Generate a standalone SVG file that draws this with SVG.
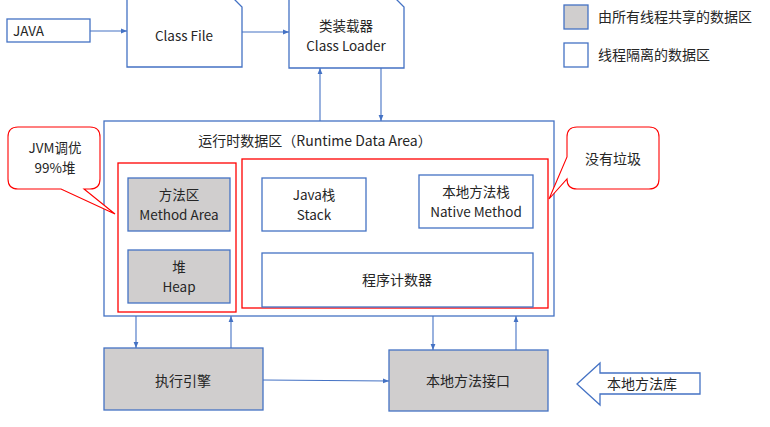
<svg xmlns="http://www.w3.org/2000/svg" width="770" height="427" viewBox="0 0 770 427">
<defs>
<style>
.b{fill:#fff;stroke:#4472C4;stroke-width:1.3}
.g{fill:#D0CECE;stroke:#4472C4;stroke-width:1.3}
.r{fill:none;stroke:#FF0000;stroke-width:1.3}
.c{fill:#fff;stroke:#FF0000;stroke-width:1.1}
.l{fill:none;stroke:#4472C4;stroke-width:1.1}
text{font-family:"Noto Sans CJK SC","Liberation Sans",sans-serif;font-size:13.5px;fill:#262626}
.m{text-anchor:middle}
.z{font-size:14px}
</style>
<marker id="a" viewBox="0 0 10 10" refX="10" refY="5" markerWidth="6" markerHeight="6" orient="auto" markerUnits="userSpaceOnUse">
<path d="M0,1 L10,5 L0,9 Z" fill="#4472C4"/>
</marker>
</defs>
<rect width="770" height="427" fill="#fff"/>

<g id="legend">
<rect x="564" y="5" width="24" height="24" class="g"/>
<text x="598" y="22" class="z">由所有线程共享的数据区</text>
<rect x="564" y="43" width="24" height="24" class="b"/>
<text x="598" y="60" class="z">线程隔离的数据区</text>
</g>

<g id="java">
<rect x="7" y="19" width="83" height="23" class="b"/>
<text x="13" y="36">JAVA</text>
</g>

<g id="classfile">
<path d="M127,-12 H223 L242,7 V67 H127 Z" class="b"/>
<text x="184" y="41" class="m">Class File</text>
</g>

<g id="classloader">
<path d="M289,-12 H385 L404,7 V68 H289 Z" class="b"/>
<text x="346" y="31" class="m">类装载器</text>
<text x="346" y="50.5" class="m">Class Loader</text>
</g>

<g id="runtime">
<rect x="104" y="121" width="450" height="195" class="b"/>
<text x="315" y="146" class="m z">运行时数据区（Runtime Data Area）</text>
</g>

<g id="shared">
<rect x="118" y="163" width="118" height="149" class="r"/>
</g>
<g id="method">
<rect x="128" y="178" width="102" height="53" class="g"/>
<text x="179" y="200" class="m">方法区</text>
<text x="179" y="219.5" class="m">Method Area</text>
</g>
<g id="heap">
<rect x="128" y="250" width="102" height="53" class="g"/>
<text x="179" y="272" class="m">堆</text>
<text x="179" y="291.5" class="m">Heap</text>
</g>

<g id="private">
<rect x="242" y="159" width="306" height="149" class="r"/>
</g>
<g id="stack">
<rect x="262" y="178" width="104" height="53" class="b"/>
<text x="314" y="200" class="m">Java栈</text>
<text x="314" y="219.5" class="m">Stack</text>
</g>
<g id="native">
<rect x="419" y="175" width="114" height="53" class="b"/>
<text x="476" y="197" class="m">本地方法栈</text>
<text x="476" y="216.5" class="m">Native Method</text>
</g>
<g id="pc">
<rect x="262" y="253" width="271" height="54" class="b"/>
<text x="397" y="285" class="m z">程序计数器</text>
</g>

<g id="callout-jvm">
<path d="M18,127 H90 Q100,127 100,137 V179 Q100,189 90,189 H84 L115,214 L61,189 H18 Q8,189 8,179 V137 Q8,127 18,127 Z" class="c"/>
<text x="55" y="153" class="m">JVM调优</text>
<text x="55" y="172.5" class="m">99%堆</text>
</g>

<g id="callout-gc">
<path d="M577,127 H649 Q659,127 659,137 V179 Q659,189 649,189 H577 Q567,189 567,179 L549,199 L567,157 V137 Q567,127 577,127 Z" class="c"/>
<text x="613" y="164" class="m z">没有垃圾</text>
</g>

<g id="engine">
<rect x="104" y="348" width="159" height="62" class="g"/>
<text x="183" y="386" class="m z">执行引擎</text>
</g>
<g id="nativeif">
<rect x="389" y="350" width="159" height="61" class="g"/>
<text x="468" y="386" class="m z">本地方法接口</text>
</g>
<g id="nativelib">
<path d="M577,384 L600,363 V373 H700 V394 H600 V405 Z" class="b"/>
<text x="642" y="389" class="m z">本地方法库</text>
</g>

<g id="connectors">
<line x1="90" y1="31" x2="127" y2="31" class="l" marker-end="url(#a)"/>
<line x1="242" y1="32" x2="289" y2="32" class="l" marker-end="url(#a)"/>
<line x1="320" y1="121" x2="320" y2="68" class="l" marker-end="url(#a)"/>
<line x1="381" y1="68" x2="381" y2="121" class="l" marker-end="url(#a)"/>
<line x1="136" y1="316" x2="136" y2="348" class="l" marker-end="url(#a)"/>
<line x1="231" y1="348" x2="231" y2="316" class="l" marker-end="url(#a)"/>
<line x1="433" y1="316" x2="433" y2="350" class="l" marker-end="url(#a)"/>
<line x1="516" y1="350" x2="516" y2="316" class="l" marker-end="url(#a)"/>
<line x1="263" y1="380" x2="389" y2="381" class="l" marker-end="url(#a)"/>
</g>
</svg>
